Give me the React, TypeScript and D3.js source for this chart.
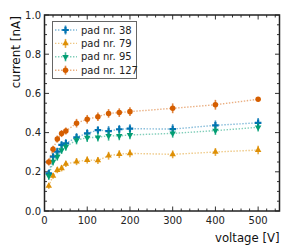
import React, { useEffect, useRef } from "react";
import * as d3 from "d3";

// voltages measured (same for every pad)
const voltages = [10, 20, 30, 40, 50, 75, 100, 125, 150, 175, 200, 300, 400, 500];

const pad38 = [0.192, 0.277, 0.303, 0.337, 0.345, 0.376, 0.396, 0.413, 0.408, 0.417, 0.42, 0.418, 0.437, 0.45];
const pad79 = [0.128, 0.179, 0.209, 0.218, 0.24, 0.252, 0.26, 0.258, 0.282, 0.29, 0.294, 0.289, 0.301, 0.311];
const pad95 = [0.179, 0.252, 0.277, 0.311, 0.328, 0.362, 0.374, 0.376, 0.384, 0.383, 0.388, 0.396, 0.41, 0.427];
const pad127 = [0.25, 0.315, 0.367, 0.395, 0.408, 0.448, 0.468, 0.481, 0.498, 0.502, 0.507, 0.524, 0.542, 0.57];

const err38 = [0.02, 0.02, 0.02, 0.02, 0.022, 0.022, 0.022, 0.02, 0.025, 0.022, 0.022, 0.025, 0.025, 0.025];
const err79 = [0.015, 0.015, 0.016, 0.016, 0.016, 0.018, 0.018, 0.018, 0.02, 0.02, 0.02, 0.02, 0.02, 0.022];
const err95 = [0.02, 0.02, 0.02, 0.02, 0.02, 0.022, 0.022, 0.022, 0.025, 0.022, 0.022, 0.022, 0.022, 0.022];
const err127 = [0.018, 0.018, 0.018, 0.018, 0.018, 0.022, 0.022, 0.022, 0.022, 0.022, 0.022, 0.025, 0.025, 0.01];

const labels = ["pad nr. 38", "pad nr. 79", "pad nr. 95", "pad nr. 127"];
const colors = ["#0173b2", "#de8f05", "#029e73", "#d55e00"];

const xTicks = [0, 100, 200, 300, 400, 500];
const yTicks = [0.0, 0.2, 0.4, 0.6, 0.8, 1.0];

const App = () => {
  const svgRef = useRef<SVGSVGElement | null>(null);

  useEffect(() => {
    const width = 291;
    const height = 252;
    const m = { left: 44.5, right: 279.5, top: 15, bottom: 211 };

    const svg = d3.select(svgRef.current);
    svg.selectAll("*").remove();
    svg.attr("width", width).attr("height", height);

    const x = d3.scaleLinear().domain([0, 550]).range([m.left, m.right]);
    const y = d3.scaleLinear().domain([0, 1]).range([m.bottom, m.top]);

    const font = "DejaVu Sans, sans-serif";
    const series = [pad38, pad79, pad95, pad127];
    const errs = [err38, err79, err95, err127];
    const shapes = [d3.symbolCross, d3.symbolTriangle, d3.symbolTriangle, d3.symbolCircle];
    const sizes = [24, 18, 18, 24];
    const rot = [0, 0, 180, 0];

    // ticks, inward on all four sides
    const tk = svg.append("g").attr("stroke", "#333").attr("stroke-width", 1);
    d3.range(0, 551, 20).forEach((v) => {
      const major = v % 100 === 0;
      const len = major ? 4.5 : 2.5;
      tk.append("line").attr("x1", x(v)).attr("x2", x(v)).attr("y1", m.bottom).attr("y2", m.bottom - len);
      tk.append("line").attr("x1", x(v)).attr("x2", x(v)).attr("y1", m.top).attr("y2", m.top + len);
    });
    d3.range(0, 21).forEach((i) => {
      const v = i * 0.05;
      const major = i % 4 === 0;
      const len = major ? 4.5 : 2.5;
      tk.append("line").attr("x1", m.left).attr("x2", m.left + len).attr("y1", y(v)).attr("y2", y(v));
      tk.append("line").attr("x1", m.right).attr("x2", m.right - len).attr("y1", y(v)).attr("y2", y(v));
    });

    // tick labels
    svg.append("g")
      .selectAll("text")
      .data(xTicks)
      .join("text")
      .attr("x", (d) => x(d))
      .attr("y", 224)
      .attr("text-anchor", "middle")
      .attr("font-family", font)
      .attr("font-size", 10)
      .attr("fill", "#222")
      .text((d) => d);

    svg.append("g")
      .selectAll("text")
      .data(yTicks)
      .join("text")
      .attr("x", 41)
      .attr("y", (d) => y(d) + 3.6)
      .attr("text-anchor", "end")
      .attr("font-family", font)
      .attr("font-size", 10)
      .attr("fill", "#222")
      .text((d) => d.toFixed(1));

    // axis labels, aligned to the axis ends
    svg.append("text")
      .attr("x", m.right)
      .attr("y", 242)
      .attr("text-anchor", "end")
      .attr("font-family", font)
      .attr("font-size", 11.7)
      .attr("fill", "#111")
      .text("voltage [V]");

    svg.append("text")
      .attr("transform", `translate(19.5,${m.top + 1}) rotate(-90)`)
      .attr("text-anchor", "end")
      .attr("font-family", font)
      .attr("font-size", 12)
      .attr("fill", "#111")
      .text("current [nA]");

    // data
    const line = d3.line<number>().x((_, i) => x(voltages[i])).y((d) => y(d));
    series.forEach((s, k) => {
      const g = svg.append("g");
      g.append("path")
        .attr("d", line(s))
        .attr("fill", "none")
        .attr("stroke", colors[k])
        .attr("stroke-opacity", 0.5)
        .attr("stroke-width", 1.4)
        .attr("stroke-dasharray", "1.4,1.6");
      g.selectAll("line.err")
        .data(s)
        .join("line")
        .attr("x1", (_, i) => x(voltages[i]))
        .attr("x2", (_, i) => x(voltages[i]))
        .attr("y1", (d, i) => y(d - errs[k][i]))
        .attr("y2", (d, i) => y(d + errs[k][i]))
        .attr("stroke", colors[k])
        .attr("stroke-opacity", 0.75)
        .attr("stroke-width", 1.6);
      g.selectAll("path.mk")
        .data(s)
        .join("path")
        .attr("class", "mk")
        .attr("d", d3.symbol().type(shapes[k]).size(sizes[k])())
        .attr("transform", (d, i) => `translate(${x(voltages[i])},${y(d)}) rotate(${rot[k]})`)
        .attr("fill", colors[k]);
    });

    // frame
    svg.append("rect")
      .attr("x", m.left)
      .attr("y", m.top)
      .attr("width", m.right - m.left)
      .attr("height", m.bottom - m.top)
      .attr("fill", "none")
      .attr("stroke", "#222")
      .attr("stroke-width", 1.5);

    // legend
    const lg = svg.append("g");
    lg.append("rect")
      .attr("x", 52.5)
      .attr("y", 21.5)
      .attr("width", 84)
      .attr("height", 57)
      .attr("fill", "white")
      .attr("stroke", "#666")
      .attr("stroke-width", 1);
    labels.forEach((lab, k) => {
      const ly = 30 + k * 13.4;
      lg.append("line")
        .attr("x1", 55)
        .attr("x2", 77)
        .attr("y1", ly)
        .attr("y2", ly)
        .attr("stroke", colors[k])
        .attr("stroke-opacity", 0.5)
        .attr("stroke-width", 1.4)
        .attr("stroke-dasharray", "1.4,1.6");
      lg.append("line")
        .attr("x1", 65.5)
        .attr("x2", 65.5)
        .attr("y1", ly - 4.5)
        .attr("y2", ly + 4.5)
        .attr("stroke", colors[k])
        .attr("stroke-opacity", 0.75)
        .attr("stroke-width", 1.6);
      lg.append("path")
        .attr("d", d3.symbol().type(shapes[k]).size(sizes[k])())
        .attr("transform", `translate(65.5,${ly}) rotate(${rot[k]})`)
        .attr("fill", colors[k]);
      lg.append("text")
        .attr("x", 81)
        .attr("y", ly + 3.6)
        .attr("font-family", font)
        .attr("font-size", 10)
        .attr("fill", "#222")
        .text(lab);
    });
  }, []);

  return <svg ref={svgRef} style={{ position: "absolute", left: 0, top: 0 }}></svg>;
};

export default App;
